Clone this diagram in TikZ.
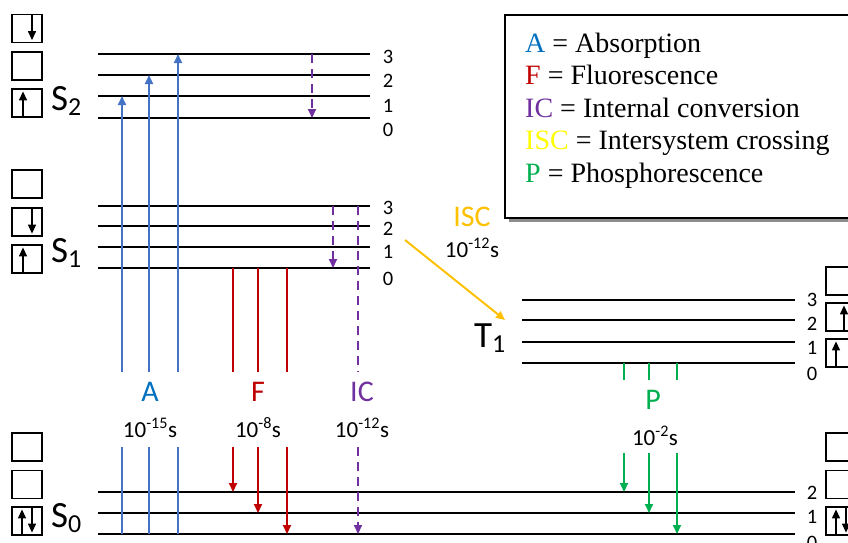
\documentclass[tikz,border=0pt]{standalone}
\usepackage{fontspec}
\setmainfont{Carlito}
\newfontfamily\legfont{Liberation Serif}
\usetikzlibrary{arrows.meta}
\definecolor{ablue}{HTML}{4472C4}
\definecolor{lblue}{HTML}{0070C0}
\definecolor{ared}{HTML}{C00000}
\definecolor{apurple}{HTML}{7030A0}
\definecolor{agreen}{HTML}{00B050}
\definecolor{aorange}{HTML}{FFC000}
\definecolor{ayellow}{HTML}{FFFF00}
\newcommand\lowsub[1]{\raisebox{-0.32ex}{\scalebox{0.7}{#1}}}
\begin{document}
\begin{tikzpicture}[x=1pt,y=-1pt,
  lvl/.style={line width=1.3pt},
  lvlz/.style={line width=2.6pt},
  num/.style={font=\fontsize{20.5}{20.5}\selectfont},
  st/.style={font=\fontsize{37}{37}\selectfont, anchor=base west, inner sep=0pt},
  proc/.style={font=\fontsize{30}{30}\selectfont, inner sep=0pt},
  tim/.style={font=\fontsize{23}{23}\selectfont, inner sep=0pt},
  tr/.style={line width=2pt, -{Triangle[length=9pt,width=8pt]}},
  trn/.style={line width=2pt},
  icd/.style={line width=2pt, apurple, dash pattern=on 9pt off 6pt},
  orb/.style={draw, line width=1.2pt, minimum width=30pt, minimum height=28pt, inner sep=0pt},
  spin/.style={line width=1.3pt, -{Triangle[length=9pt,width=8pt]}},
  leg/.style={font=\legfont\fontsize{28}{28}\selectfont, anchor=base west, inner sep=0pt}]
\useasboundingbox (0,0) rectangle (848,542);
\fill[white] (0,0) rectangle (848,542);

% ---------- levels ----------
% S2
\draw[lvl] (98,54) -- (370,54);
\draw[lvl] (98,75) -- (370,75);
\draw[lvl] (98,96) -- (370,96);
\draw[lvlz] (98,118) -- (370,118);
\node[num] at (388,57) {3};
\node[num] at (388,81) {2};
\node[num] at (388,106) {1};
\node[num] at (388,130) {0};
% S1
\draw[lvl] (98,206) -- (370,206);
\draw[lvl] (98,226) -- (370,226);
\draw[lvl] (98,247) -- (370,247);
\draw[lvlz] (98,268) -- (370,268);
\node[num] at (388,208) {3};
\node[num] at (388,229) {2};
\node[num] at (388,252) {1};
\node[num] at (388,279) {0};
% T1
\draw[lvl] (522,300) -- (795,300);
\draw[lvl] (522,320) -- (795,320);
\draw[lvl] (522,342) -- (795,342);
\draw[lvlz] (522,363) -- (795,363);
\node[num] at (812,300) {3};
\node[num] at (812,324) {2};
\node[num] at (812,348) {1};
\node[num] at (812,374) {0};
% S0
\draw[lvl] (98,492) -- (795,492);
\draw[lvl] (98,513) -- (795,513);
\draw[lvlz] (98,534) -- (795,534);
\node[num] at (812,493) {2};
\node[num] at (812,517) {1};
\node[num] at (812,543) {0};

% ---------- state labels ----------
\node[st] (S2) at (51,110) {S\lowsub{2}};
\node[st] (S1) at (51,262) {S\lowsub{1}};
\node[st] (S0) at (51,527) {S\lowsub{0}};
\node[st] (T1) at (474,347) {T\lowsub{1}};

% ---------- orbital boxes (left) ----------
\node[orb] (b2a) at (27,28.5) {};
\node[orb] (b2b) at (27,66) {};
\node[orb] (b2c) at (27,103) {};
\node[orb] (b1a) at (27,184) {};
\node[orb] (b1b) at (27,222) {};
\node[orb] (b1c) at (27,259) {};
\node[orb] (b0a) at (27,447) {};
\node[orb] (b0b) at (27,484.5) {};
\node[orb] (b0c) at (27,521) {};
% right
\node[orb] (t1a) at (841,281) {};
\node[orb] (t1b) at (841,317) {};
\node[orb] (t1c) at (841,353) {};
\node[orb] (r0a) at (841,447) {};
\node[orb] (r0b) at (841,484.5) {};
\node[orb] (r0c) at (841,521) {};

% spins
\draw[spin] ([xshift=5pt]b2a.north) -- ([xshift=5pt,yshift=3pt]b2a.south);
\draw[spin] ([xshift=-4pt]b2c.south) -- ([xshift=-4pt,yshift=-3pt]b2c.north);
\draw[spin] ([xshift=5pt]b1b.north) -- ([xshift=5pt,yshift=3pt]b1b.south);
\draw[spin] ([xshift=-4pt]b1c.south) -- ([xshift=-4pt,yshift=-3pt]b1c.north);
\draw[spin] ([xshift=-5pt]b0c.south) -- ([xshift=-5pt,yshift=-3pt]b0c.north);
\draw[spin] ([xshift=5pt]b0c.north) -- ([xshift=5pt,yshift=3pt]b0c.south);
\draw[spin] ([xshift=3pt]t1b.south) -- ([xshift=3pt,yshift=-3pt]t1b.north);
\draw[spin] ([xshift=-5pt]t1c.south) -- ([xshift=-5pt,yshift=-3pt]t1c.north);
\draw[spin] ([xshift=-5pt]r0c.south) -- ([xshift=-5pt,yshift=-3pt]r0c.north);
\draw[spin] ([xshift=5pt]r0c.north) -- ([xshift=5pt,yshift=3pt]r0c.south);

% ---------- process labels ----------
\node[proc, text=lblue] (A) at (150,392) {A};
\node[tim] (tA) at (150,428) {10\textsuperscript{-15}s};
\node[proc, text=ared] (F) at (258,392) {F};
\node[tim] (tF) at (258,428) {10\textsuperscript{-8}s};
\node[proc, text=apurple] (IC) at (362,392) {IC};
\node[tim] (tIC) at (362,428) {10\textsuperscript{-12}s};
\node[proc, text=aorange] (ISC) at (472,217) {ISC};
\node[tim] (tISC) at (472,248) {10\textsuperscript{-12}s};
\node[proc, text=agreen] (P) at (653,400) {P};
\node[tim] (tP) at (655,436) {10\textsuperscript{-2}s};

% ---------- absorption ----------
\foreach \x/\y in {122/96,149/75,178/54}{
  \coordinate (au\x) at (\x,372);
  \coordinate (at\x) at (\x,\y);
  \coordinate (ab\x) at (\x,534);
  \coordinate (am\x) at (\x,447);
  \draw[tr, ablue] (au\x) -- (at\x);
  \draw[trn, ablue] (ab\x) -- (am\x);
}
% ---------- fluorescence ----------
\foreach \x/\y in {233/492,258/513,287/534}{
  \coordinate (fs\x) at (\x,268);
  \coordinate (fe\x) at (\x,372);
  \coordinate (fm\x) at (\x,447);
  \coordinate (ft\x) at (\x,\y);
  \draw[trn, ared] (fs\x) -- (fe\x);
  \draw[tr, ared] (fm\x) -- (ft\x);
}
% ---------- internal conversion ----------
\coordinate (v2s) at (312,54);  \coordinate (v2e) at (312,118);
\coordinate (v1s) at (333,206); \coordinate (v1e) at (333,268);
\coordinate (ics) at (358,206); \coordinate (ice) at (358,372);
\coordinate (icm) at (358,447); \coordinate (ict) at (358,534);
\draw[icd, -{Triangle[length=9pt,width=8pt]}] (v2s) -- (v2e);
\draw[icd, -{Triangle[length=9pt,width=8pt]}] (v1s) -- (v1e);
\draw[icd] (ics) -- (ice);
\draw[icd, -{Triangle[length=9pt,width=8pt]}] (icm) -- (ict);
% ---------- ISC ----------
\coordinate (isa) at (405,240); \coordinate (isb) at (505,320);
\draw[tr, aorange] (isa) -- (isb);
% ---------- phosphorescence ----------
\foreach \x/\y in {624/492,649/513,677/534}{
  \coordinate (ps\x) at (\x,363);
  \coordinate (pe\x) at (\x,380);
  \coordinate (pm\x) at (\x,453);
  \coordinate (pt\x) at (\x,\y);
  \draw[trn, agreen] (ps\x) -- (pe\x);
  \draw[tr, agreen] (pm\x) -- (pt\x);
}

% ---------- legend ----------
\fill[black!45] (509,19) rectangle (860,222);
\draw[line width=2pt, fill=white] (505,15) rectangle (856,218);
\node[leg] (l1) at (525,52) {\textcolor{lblue}{A} = Absorption};
\node[leg] (l2) at (525,84) {\textcolor{ared}{F} = Fluorescence};
\node[leg] (l3) at (525,117) {\textcolor{apurple}{IC} = Internal conversion};
\node[leg] (l4) at (525,149) {\textcolor{ayellow}{ISC} = Intersystem crossing};
\node[leg] (l5) at (525,182) {\textcolor{agreen}{P} = Phosphorescence};
\end{tikzpicture}
\end{document}
